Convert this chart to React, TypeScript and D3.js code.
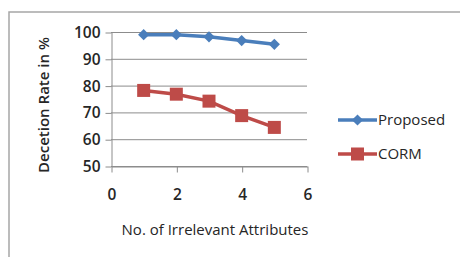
import { useEffect, useRef } from 'react';
import * as d3 from 'd3';

const xValues = [1, 2, 3, 4, 5];
const proposed = [99, 99, 98.2, 96.8, 95.4];
const corm = [78.2, 76.8, 74.2, 68.8, 64.4];
const xTicks = [0, 2, 4, 6];
const yTicks = [50, 60, 70, 80, 90, 100];
const seriesNames = ['Proposed', 'CORM'];

const W = 460;
const H = 257;
const FONT = '"Open Sans", sans-serif';

const App = () => {
    const svgRef = useRef<SVGSVGElement>(null);

    useEffect(() => {
        const svg = d3.select(svgRef.current);
        svg.selectAll('*').remove();

        // outer chart frame (runs off the right and bottom of the picture)
        svg.append('rect')
            .attr('x', 9).attr('y', 12)
            .attr('width', W + 10).attr('height', H + 10)
            .attr('fill', 'white').attr('stroke', '#a6a6a6').attr('stroke-width', 1.5);

        const xScale = d3.scaleLinear().domain([0, 6]).range([111, 307]);
        const yScale = d3.scaleLinear().domain([50, 100]).range([166, 32]);

        // gridlines
        svg.append('g')
            .selectAll('line')
            .data(yTicks)
            .enter()
            .append('line')
            .attr('x1', xScale(0)).attr('x2', xScale(6))
            .attr('y1', d => yScale(d) + 0.5).attr('y2', d => yScale(d) + 0.5)
            .attr('stroke', '#8c8c8c').attr('stroke-width', 1);

        const styleTicks = (g: any) => {
            g.select('.domain').attr('stroke', '#8c8c8c');
            g.selectAll('.tick line').attr('stroke', '#8c8c8c');
            g.selectAll('.tick text')
                .attr('font-family', FONT).attr('font-size', 15.5).attr('font-weight', 600)
                .attr('fill', '#262626');
        };

        // y axis
        svg.append('g')
            .attr('transform', `translate(${xScale(0) + 0.5},0.5)`)
            .call(d3.axisLeft(yScale).tickValues(yTicks).tickSize(6).tickSizeOuter(0).tickPadding(5))
            .call(styleTicks);

        // x axis
        svg.append('g')
            .attr('transform', `translate(0.5,${yScale(50) + 0.5})`)
            .call(d3.axisBottom(xScale).tickValues(xTicks).tickFormat(d3.format('d'))
                .tickSize(6).tickSizeOuter(0).tickPadding(16))
            .call(styleTicks);

        // axis titles
        svg.append('text')
            .attr('transform', `translate(49,${(yScale(50) + yScale(100)) / 2 + 6}) rotate(-90)`)
            .attr('text-anchor', 'middle')
            .attr('font-family', FONT).attr('font-size', 15).attr('font-weight', 600)
            .attr('fill', '#262626')
            .text('Decetion Rate in %');

        svg.append('text')
            .attr('x', 215).attr('y', 235)
            .attr('text-anchor', 'middle')
            .attr('font-family', FONT).attr('font-size', 15)
            .attr('fill', '#262626')
            .text('No. of Irrelevant Attributes');

        const colors = ['#4a7ebb', '#be4b48'];
        const series = [proposed, corm];

        const line = d3.line<number>()
            .x((d, i) => xScale(xValues[i]))
            .y(d => yScale(d));

        series.forEach((vals, s) => {
            svg.append('path')
                .datum(vals)
                .attr('d', line)
                .attr('fill', 'none')
                .attr('stroke', colors[s])
                .attr('stroke-width', 3.5);

            if (s === 0) {
                svg.append('g').selectAll('path')
                    .data(vals)
                    .enter()
                    .append('path')
                    .attr('d', d3.symbol(d3.symbolDiamond2, 80))
                    .attr('transform', (d, i) => `translate(${xScale(xValues[i])},${yScale(d)})`)
                    .attr('fill', colors[s]);
            } else {
                svg.append('g').selectAll('rect')
                    .data(vals)
                    .enter()
                    .append('rect')
                    .attr('x', (d, i) => xScale(xValues[i]) - 6.5)
                    .attr('y', d => yScale(d) - 6.5)
                    .attr('width', 13).attr('height', 13)
                    .attr('fill', colors[s]);
            }
        });

        // legend
        const legend = svg.append('g')
            .selectAll('g')
            .data(seriesNames)
            .enter()
            .append('g')
            .attr('transform', (d, i) => `translate(338,${120 + i * 34})`);

        legend.append('line')
            .attr('x1', 0).attr('x2', 39).attr('y1', 0).attr('y2', 0)
            .attr('stroke', (d, i) => colors[i]).attr('stroke-width', 3.5);

        legend.filter((d, i) => i === 0)
            .append('path')
            .attr('d', d3.symbol(d3.symbolDiamond2, 80))
            .attr('transform', 'translate(19.5,0)')
            .attr('fill', colors[0]);

        legend.filter((d, i) => i === 1)
            .append('rect')
            .attr('x', 13).attr('y', -6.5).attr('width', 13).attr('height', 13)
            .attr('fill', colors[1]);

        legend.append('text')
            .attr('x', 40).attr('y', 0).attr('dy', '0.35em')
            .attr('font-family', FONT).attr('font-size', 15)
            .attr('fill', '#262626')
            .text(d => d);
    }, []);

    return (
        <svg
            ref={svgRef}
            width={W}
            height={H}
            style={{ position: 'absolute', left: 0, top: 0, background: 'white' }}
        />
    );
};

export default App;
